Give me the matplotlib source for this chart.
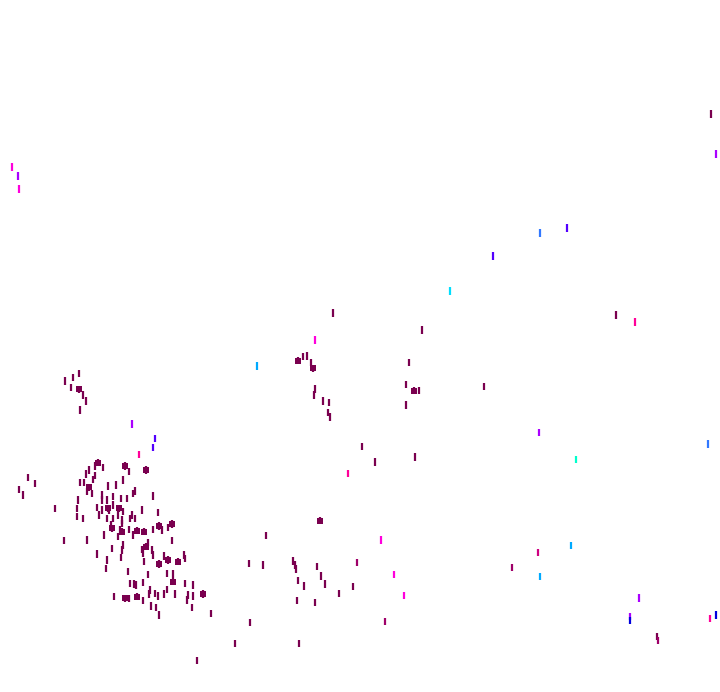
import matplotlib
matplotlib.use("Agg")
import matplotlib.pyplot as plt
from matplotlib.colors import LinearSegmentedColormap

# point positions (image-space coordinates) and colour values
x_pos = [
    711, 716, 12, 18, 19, 540, 567, 493, 450, 333, 421.7, 616, 635, 315, 257,
    297.7, 302.7, 307, 311, 312.7, 409,
    314.7, 313.7, 322.7, 328.7, 328, 329.7,
    406.3, 413.7, 418.7, 406, 484,
    362, 374.7, 414.7, 347.7,
    538.7, 708.3, 576, 571, 538, 511.7, 540, 638.7, 630, 630, 716.3, 710.3, 656.7, 658.3,
    320, 266, 381, 248.7, 263, 293.3, 295.3, 296, 316.7, 356.7, 394, 321, 297.7, 304,
    325, 353, 338.7, 403.7, 296.7, 315, 385.3, 249.7, 235, 298.7, 197.3,
    79.3, 73.3, 65, 70.7, 79.3, 83.3, 85.7, 80, 132.3, 154.7, 152.7, 28.3, 35, 19, 23.3, 55,
    138.7,
    97.7, 95, 103.3, 125, 129.3, 146, 86, 89.3, 95.3, 80, 84, 88.7, 93.3, 107.7, 116,
    123.3, 133.3, 135.3, 152.7, 86.7, 92.3, 101.7, 101.7, 106.7, 113.3, 121, 126.7,
    78.3, 76.7, 76.7, 82.7, 96.7, 101.7, 99.3, 107.7, 109.3, 113.3, 119.3, 122.7,
    118.3, 106.7, 113.3, 121.7, 130, 131.7, 135, 142.3, 158.3, 111.7, 110.7, 121.7,
    120, 121.7, 129.3, 136.7, 144, 153.3, 159, 161.7, 168.3, 171.7, 64, 86.7, 104.3,
    118.3, 133.3, 147.7, 146, 123.3, 121.7, 111.7, 141.7, 151.7, 143.3, 96.7, 106.7,
    106, 121, 144, 153.3, 159.3, 164.3, 168.3, 172, 177.7, 184.3, 185, 128.3, 148.3,
    143.3, 166.7, 172.7, 173.3, 185, 130, 134, 135.7, 114.3, 125, 129.3, 137.3, 143.3,
    150, 149.3, 155, 158.3, 164.3, 166.7, 174.7, 188.3, 186.7, 193.3, 192.7, 203.3,
    191.7, 150.7, 156, 159.3, 210.7,
]
y_pos = [
    114, 154, 167, 176, 189, 233, 228, 256, 291, 313, 330, 315, 322, 340, 366,
    360.7, 356.7, 356, 362.7, 368.3, 362.7,
    389, 395, 401, 402.3, 412.7, 417,
    384.3, 390.7, 390.7, 405, 386.3,
    446.3, 462, 457, 473.7,
    432.3, 444, 459.3, 545.3, 552.3, 567.3, 576.7, 598, 616.7, 620.7, 615, 618.7, 636.7, 640.7,
    520.7, 535.7, 540, 563.3, 565, 561, 565, 569, 566.7, 562.7, 574.7, 576, 580.7, 586,
    584, 586.7, 593.7, 595.7, 600.7, 602.7, 621.7, 622.7, 643.3, 643.3, 660.3,
    373.3, 377.3, 381, 387.7, 389.3, 395, 401, 410, 424, 438.3, 447.3, 477.3, 483.3, 489.3, 495, 508.3,
    454.3,
    462.7, 466, 467.3, 466, 471.7, 470, 474, 470, 475.3, 482.3, 482.3, 487.3, 479.3, 486, 485,
    480, 493.3, 491, 496, 491.7, 493.3, 495, 500, 500, 496.7, 498.3, 498.3,
    500, 508.3, 516.7, 518.3, 507.3, 510, 515, 508.3, 510, 505, 508.3, 511.7,
    515, 518.3, 518.3, 520, 518.3, 515, 518.3, 510, 512.3, 528.3, 525, 523.3,
    530, 531.7, 529.3, 530.7, 531.7, 529.3, 526, 530, 527.3, 524, 540.7, 540, 535,
    536.7, 535, 542.7, 546.7, 545, 550, 548.3, 549.3, 550, 553.3, 554, 560,
    568.3, 557.7, 561.7, 555, 564, 556, 560, 540.7, 561.7, 555, 558.3, 571.7, 574.3,
    582.7, 573.3, 574, 581.7, 583.3, 583.3, 584, 585, 596.7, 598.3, 598.3, 596.7, 600.7,
    590, 594, 593.3, 596, 594, 589.3, 594, 595, 600, 596, 585, 594,
    607.3, 606, 607.3, 615, 613.3,
]
values = [
    0, 0.4, 0.3, 0.4, 0.3, 0.7, 0.5, 0.5, 0.9, 0, 0, 0, 0.2, 0.3, 0.8,
    0, 0, 0, 0, 0, 0,
    0, 0, 0, 0, 0, 0,
    0, 0, 0, 0, 0,
    0, 0, 0, 0.2,
    0.4, 0.7, 1.0, 0.8, 0.15, 0.1, 0.8, 0.4, 0.4, 0.6, 0.6, 0.2, 0, 0.1,
    0, 0, 0.3, 0, 0, 0, 0, 0, 0, 0.1, 0.3, 0, 0, 0,
    0, 0, 0, 0.3, 0, 0, 0.1, 0, 0, 0, 0,
    0, 0, 0, 0, 0, 0, 0, 0, 0.4, 0.5, 0.5, 0, 0, 0, 0, 0,
    0.2,
]
values += [0] * (len(x_pos) - len(values))

# larger clustered marks (wider blobs)
blob_x = [97.7, 125, 146, 88.7, 107.7, 119.3, 111.7, 121.7, 136.7, 144, 159, 171.7,
          146, 159.3, 168.3, 177.7, 173.3, 125, 137.3, 203.3, 297.7, 312.7, 413.7,
          320, 79.3]
blob_y = [462.7, 466, 470, 487.3, 508.3, 508.3, 528.3, 531.7, 530.7, 531.7, 526, 524,
          546.7, 564, 560, 561.7, 581.7, 598.3, 596.7, 594, 360.7, 368.3, 390.7,
          520.7, 389.3]

cmap = LinearSegmentedColormap.from_list("pts", [
    (0.0, "#7a004f"), (0.1, "#a0006a"), (0.2, "#ff0099"), (0.3, "#ff00dd"),
    (0.4, "#aa00ff"), (0.5, "#5500ff"), (0.6, "#0000dd"), (0.7, "#3377ff"),
    (0.8, "#00aaff"), (0.9, "#00ddff"), (1.0, "#00ffcc"),
])

fig = plt.figure(figsize=(7.2, 6.92), dpi=100)
ax = fig.add_axes([0, 0, 1, 1])
ax.scatter(x_pos, y_pos, c=values, cmap=cmap, vmin=0, vmax=1,
           marker="|", s=28, linewidths=1.6)
ax.scatter(blob_x, blob_y, color=cmap(0.0), marker="s", s=14, linewidths=0)
ax.set_xlim(0, 720)
ax.set_ylim(692, 0)
ax.axis("off")
fig.savefig("out.png", dpi=100)
